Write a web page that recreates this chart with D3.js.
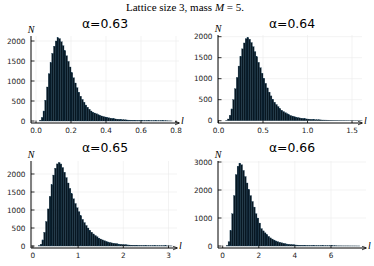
<!DOCTYPE html>
<html><head><meta charset="utf-8">
<script src="https://cdn.jsdelivr.net/npm/d3@7"></script>
<style>body{margin:0;background:#fff}svg{display:block}</style>
</head><body>
<script>
// ---- data ----
const mainTitle = "Lattice size 3, mass ";
const alphas = ["α=0.63", "α=0.64", "α=0.65", "α=0.66"];
const binStarts = [0.02, 0.08, 0.12, 0.2];
const binWidths = [0.01, 0.02, 0.04, 0.1];
const counts063 = [20,90,250,520,850,1180,1460,1690,1870,2000,2080,2060,1980,1880,1760,1630,1490,1350,1210,1080,950,830,720,620,540,470,400,345,295,250,222,200,180,160,142,126,112,100,90,80,72,64,57,51,46,41,37,33,30,27,24,22,20,18,16,15,14,12,11,10,9,9,8,7,7,6,6,5,5,5,4,4,4,3,3,2];
const counts064 = [10,40,130,280,500,760,1030,1300,1530,1710,1850,1950,1980,1940,1860,1760,1640,1520,1390,1260,1130,1010,890,780,680,590,510,440,385,335,290,250,218,190,165,143,125,110,97,86,76,67,60,53,47,42,38,34,30,27,24,22,20,18,16,15,14,13,12,11,10,9,9,8,8,7,7,6,6,5,5,5,4,4,4,3,3];
const counts065 = [10,50,170,380,680,1030,1380,1700,1970,2160,2280,2320,2280,2180,2050,1900,1750,1600,1450,1310,1180,1060,950,840,740,650,570,500,440,385,335,292,255,222,195,170,148,130,114,100,88,78,69,61,54,48,43,38,34,30,27,24,22,20,18,16,15,13,12,11,10,9,8,8,7,7,6,6,5,5,5,4,4,3];
const counts066 = [20,150,550,1150,1800,2550,2850,2960,2900,2700,2480,2250,2020,1800,1590,1390,1150,1000,820,620,540,470,410,345,290,248,212,182,156,134,115,99,85,73,63,55,48,42,37,33,29,26,23,21,19,17,15,14,13,12,11,10,9,9,8,8,7,7,6,6,6,5,5,5,4,4,4,4,3,3,3,3,2,2];
const xTicks = [[0,0.2,0.4,0.6,0.8],[0,0.5,1.0,1.5],[0,1,2,3],[0,2,4,6]];
const xTickFmt = [".1f", ".1f", "d", "d"];
const yTicks = [[0,500,1000,1500,2000],[0,500,1000,1500,2000],[0,500,1000,1500,2000],[0,1000,2000,3000]];
const allCounts = [counts063, counts064, counts065, counts066];

// ---- layout (pixels) ----
const W = 374, H = 266;
const panels = [
  {left:31, right:179, top:36, bottom:123, xd:[-0.0286, 0.817], yd:[-50, 2125], tx:105, ty:27.5},
  {left:218, right:362, top:35, bottom:123, xd:[-0.0056, 1.612], yd:[-55, 2040], tx:292, ty:27.5},
  {left:31, right:177, top:161, bottom:248, xd:[-0.042, 3.188], yd:[-55, 2361], tx:105, ty:152},
  {left:218, right:366, top:161, bottom:248, xd:[-0.26, 7.94], yd:[-71, 3036], tx:292, ty:152}
];

const svg = d3.select("body").append("svg").attr("width", W).attr("height", H);

const tt = svg.append("text").attr("x", 185).attr("y", 10.5).attr("text-anchor", "middle")
  .style("font-family", "'Liberation Serif', serif").style("font-size", "11px").attr("fill", "#000");
tt.append("tspan").text(mainTitle);
tt.append("tspan").style("font-style", "italic").text("M");
tt.append("tspan").text(" = 5.");

const defs = svg.append("defs");
defs.append("marker").attr("id", "arr").attr("viewBox", "0 0 10 10").attr("refX", 9).attr("refY", 5)
  .attr("markerWidth", 5).attr("markerHeight", 5).attr("orient", "auto")
  .append("path").attr("d", "M0,1 L10,5 L0,9").attr("fill", "none").attr("stroke", "#000").attr("stroke-width", 1.5);

panels.forEach((p, i) => {
  const x = d3.scaleLinear().domain(p.xd).range([p.left, p.right]);
  const y = d3.scaleLinear().domain(p.yd).range([p.bottom, p.top]);
  const g = svg.append("g");

  // grid
  g.selectAll(".gx").data(xTicks[i]).join("line")
    .attr("x1", d => x(d)).attr("x2", d => x(d)).attr("y1", p.top).attr("y2", p.bottom)
    .attr("stroke", "#ebebeb").attr("stroke-width", 0.6);
  g.selectAll(".gy").data(yTicks[i]).join("line")
    .attr("x1", p.left).attr("x2", p.right).attr("y1", d => y(d)).attr("y2", d => y(d))
    .attr("stroke", "#ebebeb").attr("stroke-width", 0.6);

  // bars
  const c = allCounts[i];
  const bins = c.map((v, k) => ({x0: binStarts[i] + k * binWidths[i], x1: binStarts[i] + (k + 1) * binWidths[i], v}));
  g.selectAll(".bar").data(bins).join("rect")
    .attr("x", d => x(d.x0)).attr("width", d => x(d.x1) - x(d.x0))
    .attr("y", d => y(d.v)).attr("height", d => y(0) - y(d.v))
    .attr("fill", "#081722").attr("stroke", "#10344b").attr("stroke-width", 0.3);

  // axes
  g.append("line").attr("x1", p.left).attr("x2", p.left).attr("y1", p.bottom).attr("y2", p.top)
    .attr("stroke", "#000").attr("stroke-width", 1);
  g.append("line").attr("x1", p.left).attr("x2", p.right).attr("y1", p.bottom).attr("y2", p.bottom)
    .attr("stroke", "#000").attr("stroke-width", 1).attr("marker-end", "url(#arr)");

  // ticks
  g.selectAll(".ty").data(yTicks[i]).join("line")
    .attr("x1", p.left).attr("x2", p.left + 3.5).attr("y1", d => y(d)).attr("y2", d => y(d))
    .attr("stroke", "#000").attr("stroke-width", 0.8);
  g.selectAll(".tx").data(xTicks[i]).join("line")
    .attr("x1", d => x(d)).attr("x2", d => x(d)).attr("y1", p.bottom).attr("y2", p.bottom - 2.5)
    .attr("stroke", "#000").attr("stroke-width", 0.8);

  // tick labels
  const fmt = d3.format(xTickFmt[i]);
  g.selectAll(".lx").data(xTicks[i]).join("text")
    .attr("x", d => x(d)).attr("y", p.bottom + 9.5).attr("text-anchor", "middle")
    .style("font-family", "'DejaVu Sans', sans-serif").style("font-size", "7.3px").attr("fill", "#222")
    .text(d => fmt(d));
  g.selectAll(".ly").data(yTicks[i]).join("text")
    .attr("x", p.left - 5.5).attr("y", d => y(d) + 2.6).attr("text-anchor", "end")
    .style("font-family", "'DejaVu Sans', sans-serif").style("font-size", "7.3px").attr("fill", "#222")
    .text(d => d);

  // axis labels
  g.append("text").attr("x", p.left).attr("y", p.top - 3.5).attr("text-anchor", "middle")
    .style("font-family", "'Liberation Serif', serif").style("font-style", "italic").style("font-size", "10px")
    .text("N");
  g.append("text").attr("x", p.right + 3.5).attr("y", p.bottom + 1).attr("text-anchor", "middle")
    .style("font-family", "'Liberation Serif', serif").style("font-style", "italic").style("font-size", "10px")
    .text("l");

  // title
  g.append("text").attr("x", p.tx).attr("y", p.ty).attr("text-anchor", "middle")
    .style("font-family", "'DejaVu Sans', sans-serif").style("font-size", "12.4px").attr("fill", "#000")
    .text(alphas[i]);
});
</script>
</body></html>
